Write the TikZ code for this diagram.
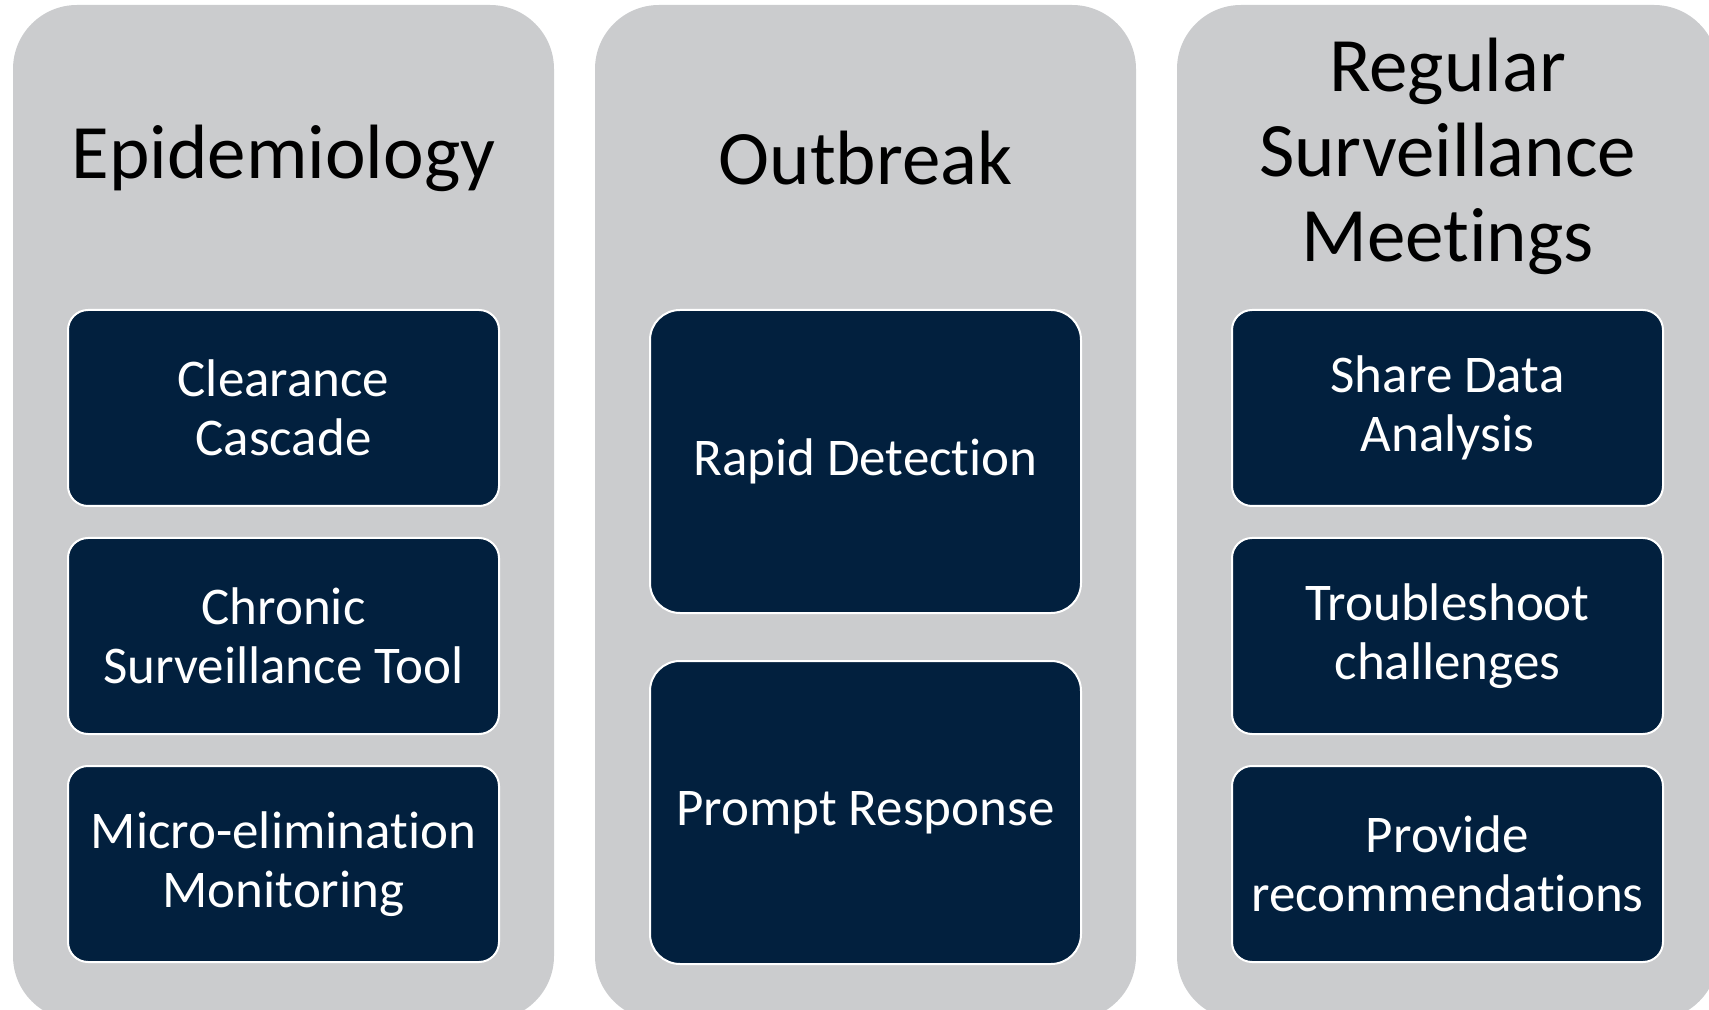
\documentclass[tikz,border=0pt]{standalone}
\usepackage{fontspec}
\setmainfont{Carlito}[RawFeature={-liga;-clig;-dlig;-calt;-rlig;-ccmp}]
\usetikzlibrary{positioning}
\definecolor{panelgray}{RGB}{203,204,206}
\definecolor{navyblue}{RGB}{2,32,62}

\begin{document}
\begin{tikzpicture}
            [
                x=0.5pt, y=-0.5pt,
                panel/.style={rectangle, rounded corners=32pt, fill=panelgray, minimum width=270.5pt, minimum height=507.5pt, inner sep=0pt},
                heading/.style={align=center, text=black, font=\fontsize{38.5}{42.5}\selectfont},
                task/.style={rectangle, rounded corners=10pt, fill=navyblue, draw=white, line width=1pt, outer sep=0pt, minimum width=215.5pt, minimum height=98pt, inner sep=0pt, align=center, text=white, font=\fontsize{26.5}{29.5}\selectfont},
                bigtask/.style={task, minimum height=151.5pt, rounded corners=15pt}
            ]
            \useasboundingbox (0,0) rectangle (1709,1010);
            %panels
            \node[panel] at (283.5,512.5)                   (epidemiology)      {};
            \node[panel] at (865.5,512.5)                   (outbreak)          {};
            \node[panel] at (1447.5,512.5)                  (meetings)          {};
            %headings
            \node[heading] at (283.5,158)                   (epidemiology_t)    {Epidemiology};
            \node[heading] at (865.5,158)                   (outbreak_t)        {Outbreak};
            \node[heading] at (1447.5,156)                  (meetings_t)        {Regular\\Surveillance\\Meetings};
            %epidemiology tasks
            \node[task] at (283.5,408)                      (clearance)         {Clearance\\Cascade};
            \node[task, below=16pt of clearance]            (chronic)           {Chronic\\Surveillance Tool};
            \node[task, below=16pt of chronic]              (micro)             {Micro-elimination\\Monitoring};
            %outbreak tasks
            \node[bigtask] at (865.5,461.5)                 (detection)         {Rapid Detection};
            \node[bigtask, below=24pt of detection]         (response)          {Prompt Response};
            %meeting tasks
            \node[task] at (1447.5,408)                     (share)             {Share Data\\Analysis};
            \node[task, below=16pt of share]                (troubleshoot)      {Troubleshoot\\challenges};
            \node[task, below=16pt of troubleshoot]         (recommend)         {Provide\\recommendations};
\end{tikzpicture}
\end{document}
